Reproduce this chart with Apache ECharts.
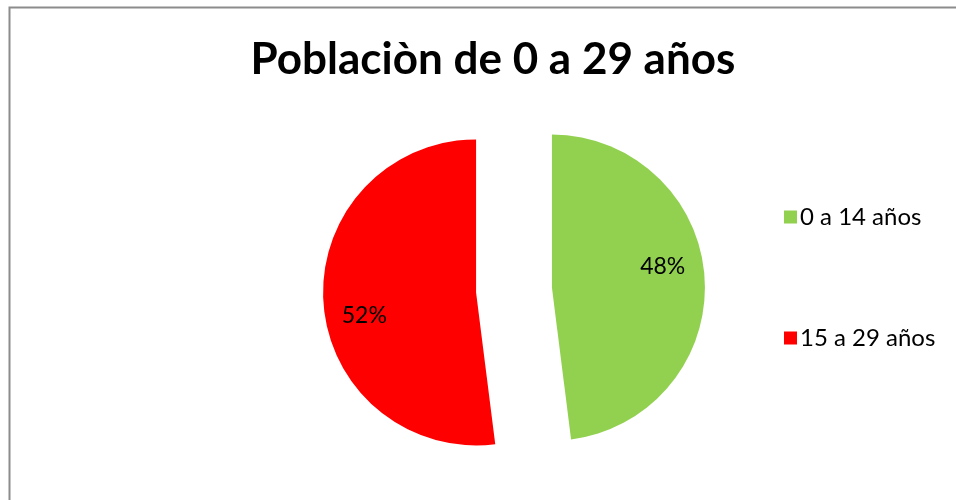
<!DOCTYPE html>
<html>
<head>
<meta charset="utf-8">
<script src="https://cdn.jsdelivr.net/npm/echarts@6/dist/echarts.min.js"></script>
<style>
  html, body { margin: 0; padding: 0; background: #ffffff; }
  #chart { width: 956px; height: 500px; }
</style>
</head>
<body>
<div id="chart"></div>
<script>
// Age groups and their share of the 0–29 population (percent)
const categories = ['0 a 14 años', '15 a 29 años'];
const shares = [48, 52];
const sliceColors = ['#92D050', '#FF0000'];
const titleText = 'Poblaciòn de 0 a 29 años';

const FONT = 'Lato, "Open Sans", sans-serif';

const pieData = categories.map((name, i) => ({
  name: name,
  value: shares[i],
  selected: true,
  itemStyle: { color: sliceColors[i] }
}));

const labelRing = categories.map((name, i) => ({
  name: name,
  value: shares[i],
  selected: true
}));

const chart = echarts.init(document.getElementById('chart'), null, { renderer: 'canvas' });

chart.setOption({
  backgroundColor: '#ffffff',
  animation: false,
  title: {
    text: titleText,
    left: 488,
    top: 33,
    textAlign: 'center',
    textStyle: { fontFamily: FONT, fontWeight: 'bold', fontSize: 44, color: '#000000' }
  },
  legend: {
    orient: 'vertical',
    left: 779,
    top: 200,
    itemWidth: 13,
    itemHeight: 13,
    itemGap: 97,
    icon: 'rect',
    selectedMode: false,
    data: categories,
    textStyle: { fontFamily: FONT, fontSize: 24, color: '#000000', lineHeight: 24, padding: [0, 0, 0, -2] }
  },
  graphic: [{
    type: 'rect',
    shape: { x: 9.5, y: 7.5, width: 1000, height: 600 },
    style: { fill: 'none', stroke: '#8c8c8c', lineWidth: 2 },
    silent: true
  }],
  series: [
    {
      type: 'pie',
      center: [514, 290],
      radius: 153,
      startAngle: 90,
      clockwise: true,
      selectedMode: 'multiple',
      selectedOffset: 38,
      silent: true,
      label: { show: false },
      labelLine: { show: false },
      emphasis: { disabled: true },
      select: { itemStyle: { borderWidth: 0 } },
      data: pieData
    },
    {
      // transparent ring that carries the percentage labels at ~0.72 of the radius
      type: 'pie',
      center: [514, 290],
      radius: [100, 122],
      startAngle: 90,
      clockwise: true,
      selectedMode: 'multiple',
      selectedOffset: 38,
      silent: true,
      legendHoverLink: false,
      itemStyle: { color: 'rgba(0,0,0,0)' },
      select: { itemStyle: { color: 'rgba(0,0,0,0)', borderWidth: 0 } },
      emphasis: { disabled: true },
      label: {
        show: true,
        position: 'inside',
        formatter: '{c}%',
        fontFamily: FONT,
        fontSize: 23,
        color: '#000000'
      },
      labelLine: { show: false },
      labelLayout: function (params) {
        return { dx: params.dataIndex === 0 ? -3 : 2, dy: params.dataIndex === 0 ? -14 : 16 };
      },
      data: labelRing
    }
  ]
});
</script>
</body>
</html>
